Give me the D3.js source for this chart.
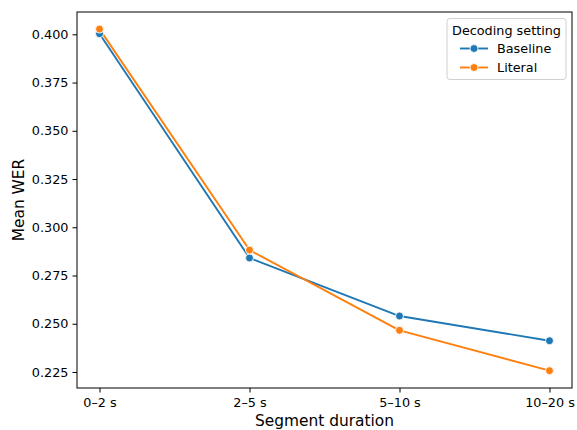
<!DOCTYPE html>
<html>
<head>
<meta charset="utf-8">
<script src="https://cdn.jsdelivr.net/npm/d3@7"></script>
<style>
  html, body { margin: 0; padding: 0; background: #fff; }
  svg { display: block; font-family: "DejaVu Sans", sans-serif; }
</style>
</head>
<body>
<svg id="chart" width="577" height="430"></svg>
<script>
const categories = ["0–2 s", "2–5 s", "5–10 s", "10–20 s"];
const baseline = [0.4003, 0.2841, 0.2540, 0.2412];
const literal = [0.4027, 0.2882, 0.2466, 0.2257];
const yTicks = [0.225, 0.250, 0.275, 0.300, 0.325, 0.350, 0.375, 0.400];
const seriesNames = ["Baseline", "Literal"];
const colors = ["#1f77b4", "#ff7f0e"];

(function () {
const svg = d3.select("#chart");
const mLeft = 77, mRight = 572, mTop = 12, mBottom = 388;

const xIdx = d3.scaleLinear().domain([-0.15, categories.length - 1 + 0.15]).range([mLeft, mRight]);
const y = d3.scaleLinear().domain([0.21671, 0.41156]).range([mBottom, mTop]);

const g = svg.append("g");

// Y axis
const yAxis = g.append("g").attr("transform", `translate(${mLeft},0)`)
  .call(d3.axisLeft(y).tickValues(yTicks).tickFormat(d3.format(".3f")).tickSize(4.5).tickPadding(4));
yAxis.select(".domain").remove();
yAxis.selectAll(".tick line").attr("stroke", "#000").attr("stroke-width", 1);
yAxis.selectAll(".tick text").attr("font-size", "12.8px").attr("fill", "#000")
  .attr("font-family", "DejaVu Sans, sans-serif");

// X axis
const xAxis = g.append("g").attr("transform", `translate(0,${mBottom})`)
  .call(d3.axisBottom(xIdx).tickValues(d3.range(categories.length)).tickFormat(i => categories[i]).tickSize(4.5).tickPadding(5));
xAxis.select(".domain").remove();
xAxis.selectAll(".tick line").attr("stroke", "#000").attr("stroke-width", 1);
xAxis.selectAll(".tick text").attr("font-size", "12.8px").attr("fill", "#000")
  .attr("font-family", "DejaVu Sans, sans-serif");

// Frame
g.append("rect").attr("x", mLeft).attr("y", mTop).attr("width", mRight - mLeft).attr("height", mBottom - mTop)
  .attr("fill", "none").attr("stroke", "#000").attr("stroke-width", 1);

// Series
const allSeries = [baseline, literal];
const line = d3.line().x((d, i) => xIdx(i)).y(d => y(d));
allSeries.forEach((vals, s) => {
  g.append("path").datum(vals).attr("d", line).attr("fill", "none")
    .attr("stroke", colors[s]).attr("stroke-width", 1.9).attr("stroke-linejoin", "round").attr("stroke-linecap", "round");
});
allSeries.forEach((vals, s) => {
  g.selectAll(null).data(vals).enter().append("circle")
    .attr("cx", (d, i) => xIdx(i)).attr("cy", d => y(d)).attr("r", 4)
    .attr("fill", colors[s]).attr("stroke", "#fff").attr("stroke-width", 0.9);
});

// Axis labels
svg.append("text").attr("x", (mLeft + mRight) / 2).attr("y", 426).attr("text-anchor", "middle")
  .attr("font-size", "15.4px").attr("fill", "#000").text("Segment duration");
svg.append("text").attr("transform", `translate(24,${(mTop + mBottom) / 2}) rotate(-90)`)
  .attr("text-anchor", "middle").attr("font-size", "15.4px").attr("fill", "#000").text("Mean WER");

// Legend
const lg = svg.append("g");
lg.append("rect").attr("x", 447).attr("y", 18.5).attr("width", 119).attr("height", 61).attr("rx", 3)
  .attr("fill", "#fff").attr("fill-opacity", 0.8).attr("stroke", "#d0d0d0").attr("stroke-width", 1);
lg.append("text").attr("x", 506.5).attr("y", 34.5).attr("text-anchor", "middle")
  .attr("font-size", "12.8px").attr("fill", "#000").text("Decoding setting");
seriesNames.forEach((name, s) => {
  const yy = 48.5 + s * 19;
  lg.append("line").attr("x1", 460).attr("x2", 488).attr("y1", yy).attr("y2", yy)
    .attr("stroke", colors[s]).attr("stroke-width", 1.9);
  lg.append("circle").attr("cx", 474).attr("cy", yy).attr("r", 4)
    .attr("fill", colors[s]).attr("stroke", "#fff").attr("stroke-width", 0.9);
  lg.append("text").attr("x", 497).attr("y", yy + 4.6).attr("font-size", "12.8px").attr("fill", "#000").text(name);
});
})();
</script>
</body>
</html>
